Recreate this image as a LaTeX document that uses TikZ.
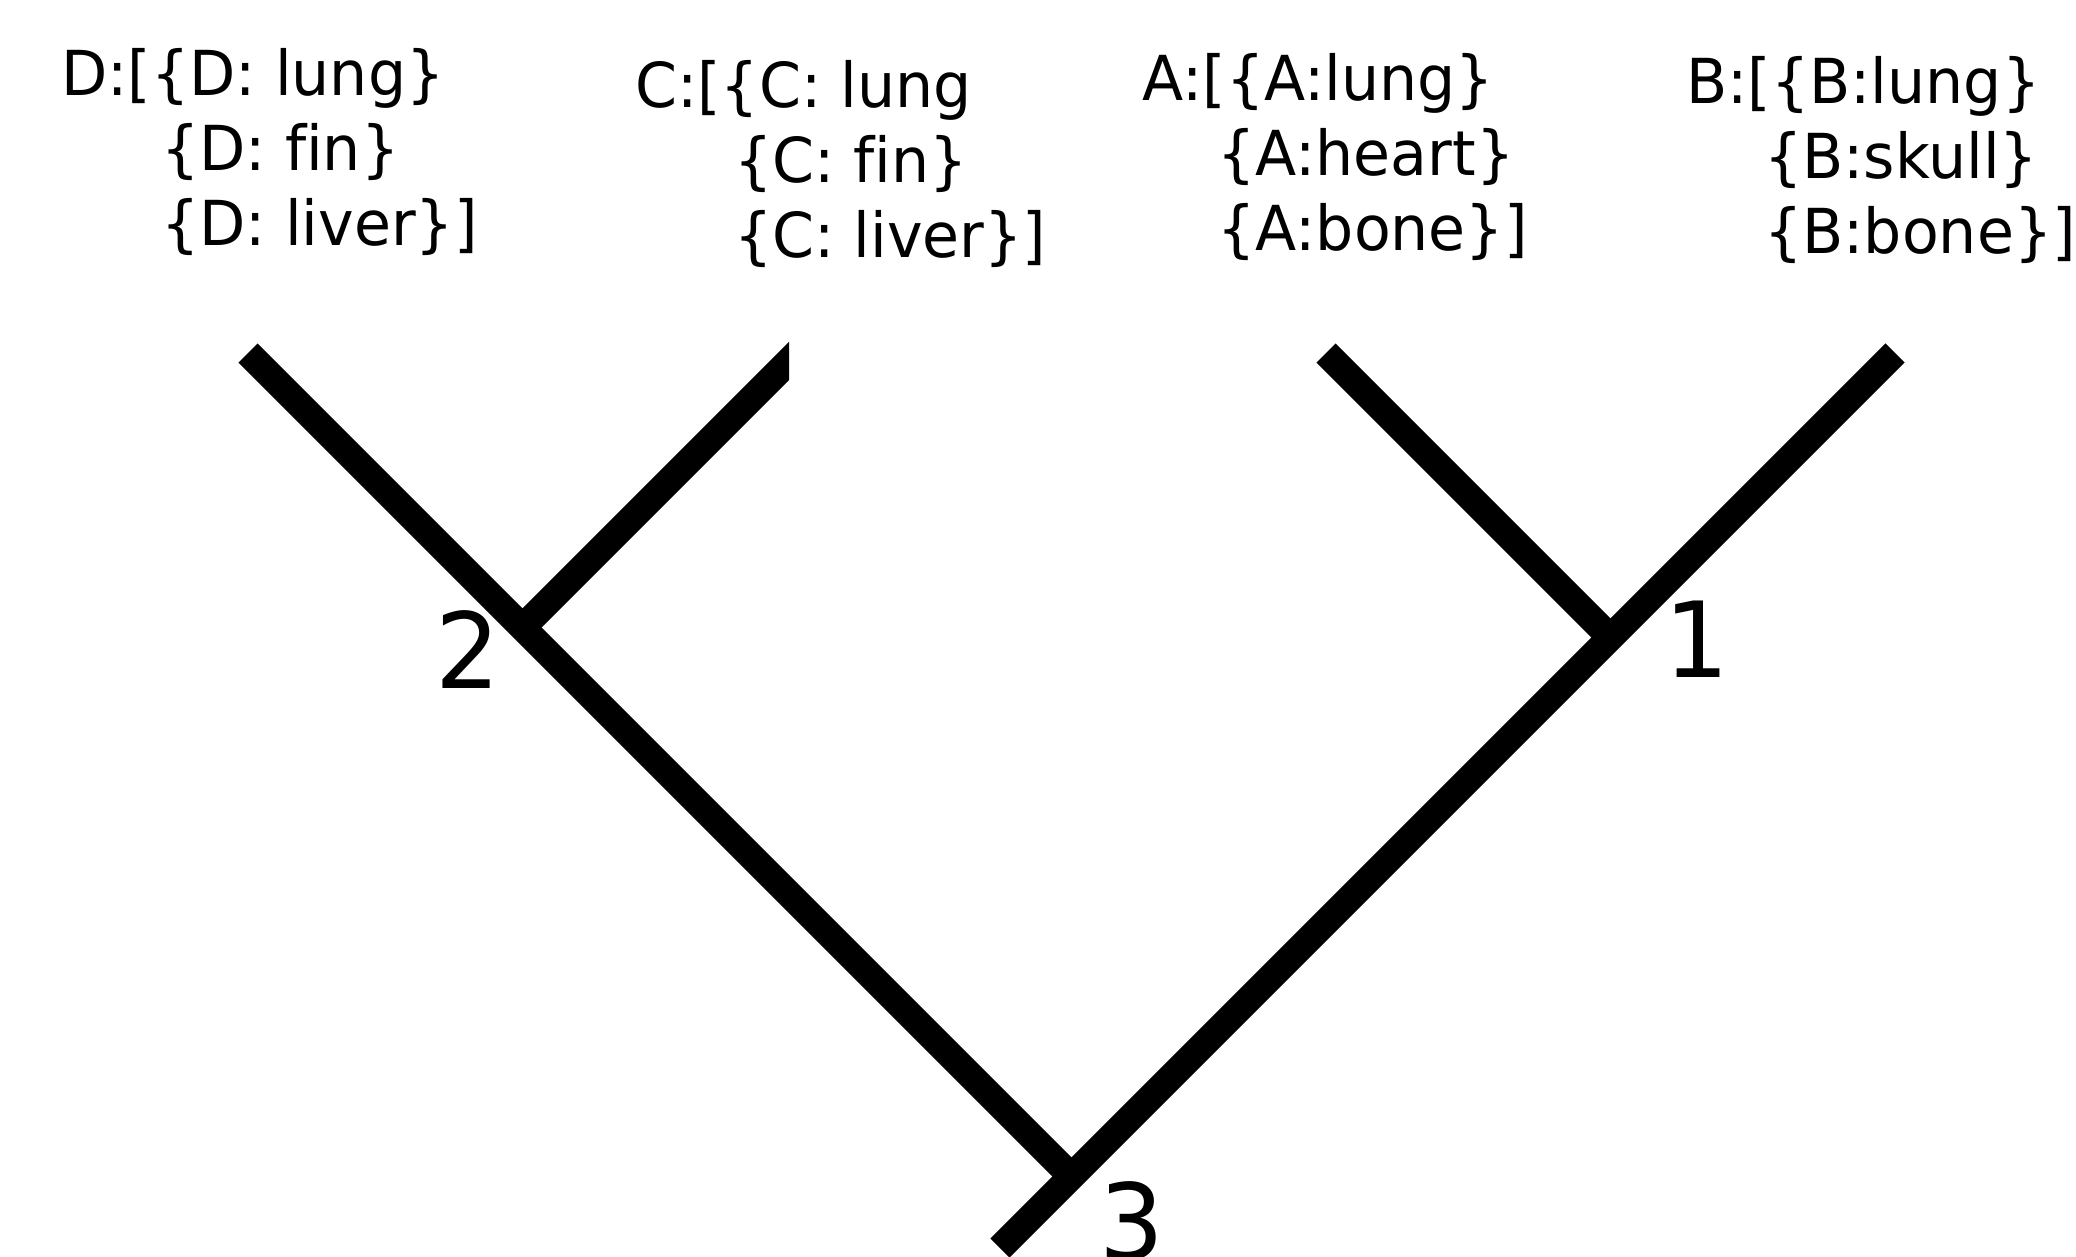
\documentclass[tikz,border=0pt]{standalone}
\usepackage{fontspec}
\setmainfont{DejaVu Sans}[FakeStretch=0.97, Ligatures=NoCommon]
\newcommand\traitset[4]{\vtop{\hbox{#1}\hbox{\hspace*{#2}#3}\hbox{\hspace*{#2}#4}}}
\tikzset{
  branch/.style={line width=27pt, line cap=butt, black},
  traits/.style={anchor=base west, inner sep=0pt, font=\fontsize{62}{75}\selectfont},
  clade/.style={anchor=base west, inner sep=0pt, font=\fontsize{105}{120}\selectfont}
}
\begin{document}
\begin{tikzpicture}[x=1pt, y=-1pt]
  \useasboundingbox (0,0) rectangle (2076,1256);

  % leaves, internal nodes and root of the tree
  \coordinate (tD) at (248,353);
  \coordinate (tC) at (800,350);
  \coordinate (tA) at (1326,353);
  \coordinate (tB) at (1895,353);
  \coordinate (n2) at (522.5,627.5);
  \coordinate (n1) at (1610.5,637.5);
  \coordinate (n3) at (1071.5,1176.5);
  \coordinate (root) at (1000,1248);

  % branches
  \draw[branch] (tD) -- (n3);
  \draw[branch] (tB) -- (root);
  \draw[branch] (tA) -- (n1);
  \begin{scope}
    \clip (0,0) rectangle (789,1256);
    \draw[branch] (tC) -- (n2);
  \end{scope}

  % trait lists above the leaves
  \node[traits] (setD) at (61,95)   {\traitset{D:[\{D: lung\}}{100pt}{\{D: fin\}}{\{D: liver\}]}};
  \node[traits] (setC) at (635,107) {\traitset{C:[\{C: lung}{99pt}{\{C: fin\}}{\{C: liver\}]}};
  \node[traits] (setA) at (1142,100){\traitset{A:[\{A:lung\}}{75pt}{\{A:heart\}}{\{A:bone\}]}};
  \node[traits] (setB) at (1686,103){\traitset{B:[\{B:lung\}}{78pt}{\{B:skull\}}{\{B:bone\}]}};

  % internal node numbers
  \node[clade] (lab2) at (435,688)  {2};
  \node[clade] (lab1) at (1664,677) {1};
  \node[clade] (lab3) at (1099,1259) {3};
\end{tikzpicture}
\end{document}
